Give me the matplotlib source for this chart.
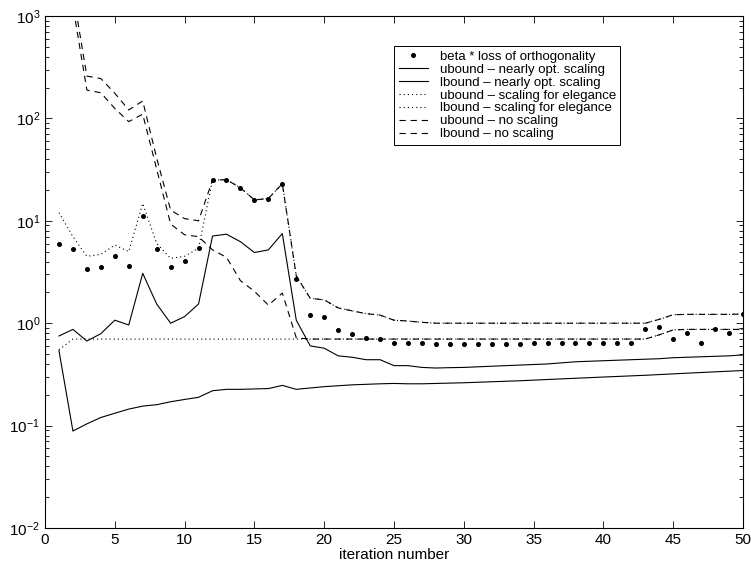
import matplotlib
matplotlib.use("Agg")
import matplotlib.pyplot as plt
from matplotlib.ticker import LogLocator

plt.rcParams["font.family"] = ["Liberation Sans", "DejaVu Sans"]
plt.rcParams["mathtext.fontset"] = "custom"
plt.rcParams["mathtext.rm"] = "Liberation Sans"
plt.rcParams["lines.scale_dashes"] = False

# iteration number
iters = list(range(1, 51))

# beta * loss of orthogonality (dots)
beta_loss = [6.0, 5.3, 3.4, 3.55, 4.5, 3.6, 11.1, 5.3, 3.55, 4.07,
             5.45, 25.0, 25.2, 21.0, 16.0, 16.5, 23.0, 2.7, 1.2, 1.16,
             0.85, 0.79, 0.71, 0.70, 0.64, 0.64, 0.64, 0.62, 0.62, 0.63,
             0.63, 0.63, 0.63, 0.63, 0.64, 0.64, 0.64, 0.645, 0.645, 0.645,
             0.645, 0.645, 0.88, 0.91, 0.70, 0.81, 0.645, 0.88, 0.81, 1.22]

# nearly optimal scaling (solid)
ub_opt = [0.75, 0.87, 0.67, 0.79, 1.07, 0.96, 3.07, 1.54, 1.0, 1.16,
          1.54, 7.1, 7.4, 6.25, 4.9, 5.2, 7.5, 1.07, 0.60, 0.57,
          0.48, 0.465, 0.44, 0.44, 0.385, 0.385, 0.37, 0.365, 0.368, 0.37,
          0.375, 0.38, 0.385, 0.39, 0.395, 0.40, 0.41, 0.42, 0.425, 0.43,
          0.435, 0.44, 0.445, 0.45, 0.46, 0.465, 0.47, 0.475, 0.48, 0.49]
lb_opt = [0.54, 0.0885, 0.104, 0.12, 0.132, 0.145, 0.155, 0.16, 0.171, 0.18,
          0.189, 0.219, 0.226, 0.226, 0.228, 0.23, 0.247, 0.226, 0.233, 0.24,
          0.245, 0.25, 0.253, 0.256, 0.258, 0.256, 0.256, 0.258, 0.26, 0.262,
          0.265, 0.268, 0.271, 0.274, 0.278, 0.282, 0.286, 0.29, 0.294, 0.298,
          0.302, 0.306, 0.31, 0.315, 0.32, 0.325, 0.33, 0.335, 0.34, 0.345]

# scaling for elegance (dotted)
ub_eleg = [12.0, 7.0, 4.5, 4.7, 5.8, 5.0, 14.8, 6.0, 4.3, 4.5,
           5.4, 25.0, 25.2, 21.0, 16.0, 16.5, 23.0, 2.9, 1.75, 1.69,
           1.41, 1.32, 1.24, 1.2, 1.07, 1.05, 1.02, 1.0, 1.0, 1.0,
           1.0, 1.0, 1.0, 1.0, 1.0, 1.0, 1.0, 1.0, 1.0, 1.0,
           1.0, 1.0, 1.0, 1.09, 1.21, 1.22, 1.22, 1.22, 1.22, 1.23]
lb_eleg = [0.55, 0.70, 0.70, 0.70, 0.70, 0.70, 0.70, 0.70, 0.70, 0.70,
           0.70, 0.70, 0.70, 0.70, 0.70, 0.70, 0.70, 0.70, 0.70, 0.70,
           0.70, 0.70, 0.70, 0.70, 0.70, 0.70, 0.70, 0.70, 0.70, 0.70,
           0.70, 0.70, 0.70, 0.70, 0.70, 0.70, 0.70, 0.70, 0.70, 0.70,
           0.70, 0.70, 0.70, 0.77, 0.86, 0.87, 0.87, 0.87, 0.87, 0.87]

# no scaling (dashed)
ub_none = [2.0e4, 1700.0, 259.0, 245.0, 176.0, 121.0, 148.0, 41.0, 12.7, 10.5,
           10.0, 25.0, 25.2, 21.0, 16.0, 16.5, 23.0, 2.9, 1.75, 1.69,
           1.41, 1.32, 1.24, 1.2, 1.07, 1.05, 1.02, 1.0, 1.0, 1.0,
           1.0, 1.0, 1.0, 1.0, 1.0, 1.0, 1.0, 1.0, 1.0, 1.0,
           1.0, 1.0, 1.0, 1.09, 1.21, 1.22, 1.22, 1.22, 1.22, 1.23]
lb_none = [1.5e4, 1250.0, 189.0, 178.0, 125.0, 93.0, 110.0, 32.0, 9.3, 7.3,
           7.0, 5.2, 4.4, 2.6, 2.05, 1.5, 1.97, 0.72, 0.70, 0.70,
           0.70, 0.70, 0.70, 0.70, 0.70, 0.70, 0.70, 0.70, 0.70, 0.70,
           0.70, 0.70, 0.70, 0.70, 0.70, 0.70, 0.70, 0.70, 0.70, 0.70,
           0.70, 0.70, 0.70, 0.77, 0.86, 0.87, 0.87, 0.87, 0.87, 0.87]

DOT = (0, (0.8, 2.2))
DASH = (0, (4.5, 3.5))


def main():
    fig = plt.figure(figsize=(7.51, 5.67), dpi=100)
    ax = fig.add_axes([45 / 751, 1 - 528 / 567, 698 / 751, 512 / 567])
    lw = 0.8

    ax.plot(iters, beta_loss, ls="none", marker="o", ms=2.6, color="k",
            label="beta * loss of orthogonality")
    ax.plot(iters, ub_opt, "-", color="k", lw=lw,
            label="ubound – nearly opt. scaling")
    ax.plot(iters, lb_opt, "-", color="k", lw=lw,
            label="lbound – nearly opt. scaling")
    ax.plot(iters, ub_eleg, ls=DOT, color="k", lw=lw,
            label="ubound – scaling for elegance")
    ax.plot(iters, lb_eleg, ls=DOT, color="k", lw=lw,
            label="lbound – scaling for elegance")
    ax.plot(iters, ub_none, ls=DASH, color="k", lw=lw,
            label="ubound – no scaling")
    ax.plot(iters, lb_none, ls=DASH, color="k", lw=lw,
            label="lbound – no scaling")

    ax.set_yscale("log")
    ax.set_xlim(0, 50)
    ax.set_ylim(1e-2, 1e3)
    ax.set_xticks(range(0, 51, 5))
    ax.yaxis.set_major_locator(LogLocator(base=10, numticks=10))
    ax.yaxis.set_minor_locator(LogLocator(base=10, subs=range(2, 10), numticks=10))
    ax.tick_params(which="both", direction="in", top=True, right=True,
                   labelsize=11, width=0.6)
    ax.tick_params(which="major", length=5)
    ax.tick_params(which="minor", length=3)
    for sp in ax.spines.values():
        sp.set_linewidth(0.8)
    ax.set_xlabel("iteration number", fontsize=11, labelpad=1)

    leg = ax.legend(loc="upper left", bbox_to_anchor=(394 / 751, 1 - 46 / 567),
                    bbox_transform=fig.transFigure, borderaxespad=0,
                    fontsize=9.5, fancybox=False, framealpha=1, edgecolor="k",
                    handlelength=2.2, handletextpad=0.9, labelspacing=0.05,
                    borderpad=0.35)
    leg.get_frame().set_linewidth(0.7)

    fig.savefig("out.png", dpi=100, facecolor="white")


if __name__ == "__main__":
    main()
